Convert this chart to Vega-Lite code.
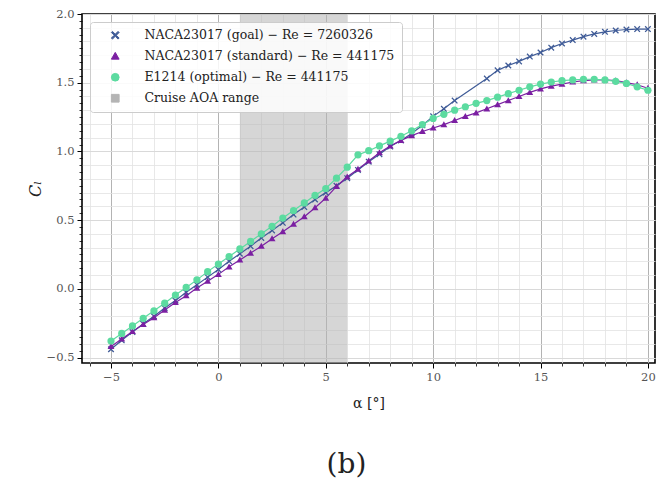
{
  "$schema": "https://vega.github.io/schema/vega-lite/v6.json",
  "width": 573,
  "height": 349,
  "autosize": "none",
  "padding": {"left": 82, "top": 14, "right": 3, "bottom": 120},
  "background": "white",
  "config": {
    "view": {"stroke": "black", "strokeWidth": 1.6},
    "font": "DejaVu Serif",
    "legend": {
      "orient": "top-left",
      "offset": 8,
      "padding": 7,
      "fillColor": "rgba(255,255,255,0.85)",
      "strokeColor": "#cccccc",
      "cornerRadius": 3,
      "labelFont": "DejaVu Serif",
      "labelFontSize": 12.5,
      "labelColor": "#222222",
      "labelLimit": 0,
      "labelOffset": 23,
      "symbolSize": 60,
      "symbolOffset": 12,
      "symbolOpacity": 1,
      "symbolStrokeWidth": 1,
      "rowPadding": 8
    }
  },
  "title": {
    "text": "(b)",
    "orient": "bottom",
    "anchor": "middle",
    "font": "DejaVu Serif",
    "fontSize": 28,
    "fontWeight": "normal",
    "color": "#222222",
    "offset": 40,
    "dx": -22
  },
  "datasets": {
    "polars": [
      {"series": "goal", "alpha": -5, "cl": -0.44},
      {"series": "goal", "alpha": -4.5, "cl": -0.375},
      {"series": "goal", "alpha": -4, "cl": -0.315},
      {"series": "goal", "alpha": -3.5, "cl": -0.255},
      {"series": "goal", "alpha": -3, "cl": -0.2},
      {"series": "goal", "alpha": -2.5, "cl": -0.14},
      {"series": "goal", "alpha": -2, "cl": -0.085},
      {"series": "goal", "alpha": -1.5, "cl": -0.025},
      {"series": "goal", "alpha": -1, "cl": 0.03},
      {"series": "goal", "alpha": -0.5, "cl": 0.085},
      {"series": "goal", "alpha": 0, "cl": 0.14},
      {"series": "goal", "alpha": 0.5, "cl": 0.2},
      {"series": "goal", "alpha": 1, "cl": 0.255},
      {"series": "goal", "alpha": 1.5, "cl": 0.31},
      {"series": "goal", "alpha": 2, "cl": 0.37},
      {"series": "goal", "alpha": 2.5, "cl": 0.425},
      {"series": "goal", "alpha": 3, "cl": 0.48},
      {"series": "goal", "alpha": 3.5, "cl": 0.54},
      {"series": "goal", "alpha": 4, "cl": 0.595},
      {"series": "goal", "alpha": 4.5, "cl": 0.65},
      {"series": "goal", "alpha": 5, "cl": 0.7},
      {"series": "goal", "alpha": 5.5, "cl": 0.75},
      {"series": "goal", "alpha": 6, "cl": 0.805},
      {"series": "goal", "alpha": 6.5, "cl": 0.865},
      {"series": "goal", "alpha": 7, "cl": 0.925},
      {"series": "goal", "alpha": 7.5, "cl": 0.98},
      {"series": "goal", "alpha": 8, "cl": 1.035},
      {"series": "goal", "alpha": 8.5, "cl": 1.08},
      {"series": "goal", "alpha": 9, "cl": 1.13},
      {"series": "goal", "alpha": 9.5, "cl": 1.19},
      {"series": "goal", "alpha": 10, "cl": 1.255},
      {"series": "goal", "alpha": 10.5, "cl": 1.31},
      {"series": "goal", "alpha": 11, "cl": 1.37},
      {"series": "goal", "alpha": 12.5, "cl": 1.53},
      {"series": "goal", "alpha": 13, "cl": 1.59},
      {"series": "goal", "alpha": 13.5, "cl": 1.625},
      {"series": "goal", "alpha": 14, "cl": 1.655},
      {"series": "goal", "alpha": 14.5, "cl": 1.69},
      {"series": "goal", "alpha": 15, "cl": 1.72},
      {"series": "goal", "alpha": 15.5, "cl": 1.755},
      {"series": "goal", "alpha": 16, "cl": 1.785},
      {"series": "goal", "alpha": 16.5, "cl": 1.81},
      {"series": "goal", "alpha": 17, "cl": 1.835},
      {"series": "goal", "alpha": 17.5, "cl": 1.855},
      {"series": "goal", "alpha": 18, "cl": 1.87},
      {"series": "goal", "alpha": 18.5, "cl": 1.88},
      {"series": "goal", "alpha": 19, "cl": 1.887},
      {"series": "goal", "alpha": 19.5, "cl": 1.89},
      {"series": "goal", "alpha": 20, "cl": 1.89},

      {"series": "standard", "alpha": -5, "cl": -0.42},
      {"series": "standard", "alpha": -4.5, "cl": -0.365},
      {"series": "standard", "alpha": -4, "cl": -0.31},
      {"series": "standard", "alpha": -3.5, "cl": -0.26},
      {"series": "standard", "alpha": -3, "cl": -0.21},
      {"series": "standard", "alpha": -2.5, "cl": -0.155},
      {"series": "standard", "alpha": -2, "cl": -0.1},
      {"series": "standard", "alpha": -1.5, "cl": -0.05},
      {"series": "standard", "alpha": -1, "cl": 0.005},
      {"series": "standard", "alpha": -0.5, "cl": 0.055},
      {"series": "standard", "alpha": 0, "cl": 0.105},
      {"series": "standard", "alpha": 0.5, "cl": 0.16},
      {"series": "standard", "alpha": 1, "cl": 0.21},
      {"series": "standard", "alpha": 1.5, "cl": 0.26},
      {"series": "standard", "alpha": 2, "cl": 0.31},
      {"series": "standard", "alpha": 2.5, "cl": 0.365},
      {"series": "standard", "alpha": 3, "cl": 0.415},
      {"series": "standard", "alpha": 3.5, "cl": 0.47},
      {"series": "standard", "alpha": 4, "cl": 0.525},
      {"series": "standard", "alpha": 4.5, "cl": 0.59},
      {"series": "standard", "alpha": 5, "cl": 0.66},
      {"series": "standard", "alpha": 5.5, "cl": 0.745},
      {"series": "standard", "alpha": 6, "cl": 0.815},
      {"series": "standard", "alpha": 6.5, "cl": 0.87},
      {"series": "standard", "alpha": 7, "cl": 0.93},
      {"series": "standard", "alpha": 7.5, "cl": 0.99},
      {"series": "standard", "alpha": 8, "cl": 1.04},
      {"series": "standard", "alpha": 8.5, "cl": 1.08},
      {"series": "standard", "alpha": 9, "cl": 1.115},
      {"series": "standard", "alpha": 9.5, "cl": 1.145},
      {"series": "standard", "alpha": 10, "cl": 1.17},
      {"series": "standard", "alpha": 10.5, "cl": 1.195},
      {"series": "standard", "alpha": 11, "cl": 1.225},
      {"series": "standard", "alpha": 11.5, "cl": 1.255},
      {"series": "standard", "alpha": 12, "cl": 1.28},
      {"series": "standard", "alpha": 12.5, "cl": 1.31},
      {"series": "standard", "alpha": 13, "cl": 1.34},
      {"series": "standard", "alpha": 13.5, "cl": 1.37},
      {"series": "standard", "alpha": 14, "cl": 1.4},
      {"series": "standard", "alpha": 14.5, "cl": 1.43},
      {"series": "standard", "alpha": 15, "cl": 1.455},
      {"series": "standard", "alpha": 15.5, "cl": 1.475},
      {"series": "standard", "alpha": 16, "cl": 1.49},
      {"series": "standard", "alpha": 16.5, "cl": 1.505},
      {"series": "standard", "alpha": 17, "cl": 1.515},
      {"series": "standard", "alpha": 17.5, "cl": 1.52},
      {"series": "standard", "alpha": 18, "cl": 1.52},
      {"series": "standard", "alpha": 18.5, "cl": 1.515},
      {"series": "standard", "alpha": 19, "cl": 1.5},
      {"series": "standard", "alpha": 19.5, "cl": 1.485},
      {"series": "standard", "alpha": 20, "cl": 1.46},

      {"series": "optimal", "alpha": -5, "cl": -0.38},
      {"series": "optimal", "alpha": -4.5, "cl": -0.325},
      {"series": "optimal", "alpha": -4, "cl": -0.27},
      {"series": "optimal", "alpha": -3.5, "cl": -0.215},
      {"series": "optimal", "alpha": -3, "cl": -0.16},
      {"series": "optimal", "alpha": -2.5, "cl": -0.105},
      {"series": "optimal", "alpha": -2, "cl": -0.045},
      {"series": "optimal", "alpha": -1.5, "cl": 0.01},
      {"series": "optimal", "alpha": -1, "cl": 0.065},
      {"series": "optimal", "alpha": -0.5, "cl": 0.125},
      {"series": "optimal", "alpha": 0, "cl": 0.18},
      {"series": "optimal", "alpha": 0.5, "cl": 0.235},
      {"series": "optimal", "alpha": 1, "cl": 0.29},
      {"series": "optimal", "alpha": 1.5, "cl": 0.345},
      {"series": "optimal", "alpha": 2, "cl": 0.4},
      {"series": "optimal", "alpha": 2.5, "cl": 0.455},
      {"series": "optimal", "alpha": 3, "cl": 0.515},
      {"series": "optimal", "alpha": 3.5, "cl": 0.57},
      {"series": "optimal", "alpha": 4, "cl": 0.625},
      {"series": "optimal", "alpha": 4.5, "cl": 0.68},
      {"series": "optimal", "alpha": 5, "cl": 0.73},
      {"series": "optimal", "alpha": 5.5, "cl": 0.805},
      {"series": "optimal", "alpha": 6, "cl": 0.885},
      {"series": "optimal", "alpha": 6.5, "cl": 0.975},
      {"series": "optimal", "alpha": 7, "cl": 1.005},
      {"series": "optimal", "alpha": 7.5, "cl": 1.04},
      {"series": "optimal", "alpha": 8, "cl": 1.075},
      {"series": "optimal", "alpha": 8.5, "cl": 1.11},
      {"series": "optimal", "alpha": 9, "cl": 1.15},
      {"series": "optimal", "alpha": 9.5, "cl": 1.195},
      {"series": "optimal", "alpha": 10, "cl": 1.24},
      {"series": "optimal", "alpha": 10.5, "cl": 1.27},
      {"series": "optimal", "alpha": 11, "cl": 1.3},
      {"series": "optimal", "alpha": 11.5, "cl": 1.325},
      {"series": "optimal", "alpha": 12, "cl": 1.35},
      {"series": "optimal", "alpha": 12.5, "cl": 1.37},
      {"series": "optimal", "alpha": 13, "cl": 1.395},
      {"series": "optimal", "alpha": 13.5, "cl": 1.42},
      {"series": "optimal", "alpha": 14, "cl": 1.445},
      {"series": "optimal", "alpha": 14.5, "cl": 1.47},
      {"series": "optimal", "alpha": 15, "cl": 1.49},
      {"series": "optimal", "alpha": 15.5, "cl": 1.505},
      {"series": "optimal", "alpha": 16, "cl": 1.515},
      {"series": "optimal", "alpha": 16.5, "cl": 1.52},
      {"series": "optimal", "alpha": 17, "cl": 1.525},
      {"series": "optimal", "alpha": 17.5, "cl": 1.525},
      {"series": "optimal", "alpha": 18, "cl": 1.52},
      {"series": "optimal", "alpha": 18.5, "cl": 1.51},
      {"series": "optimal", "alpha": 19, "cl": 1.495},
      {"series": "optimal", "alpha": 19.5, "cl": 1.47},
      {"series": "optimal", "alpha": 20, "cl": 1.445}
    ],
    "cruise": [
      {"series": "cruise", "start": 1, "end": 6}
    ]
  },
  "resolve": {"axis": {"x": "independent", "y": "independent"}},
  "layer": [
    {
      "data": {"name": "cruise"},
      "mark": {"type": "rect", "opacity": 0.55},
      "encoding": {
        "x": {
          "field": "start",
          "type": "quantitative",
          "scale": {"domain": [-6.35, 20.33], "nice": false, "zero": false},
          "axis": {
            "orient": "bottom",
            "values": [-6, -5, -4, -3, -2, -1, 0, 1, 2, 3, 4, 5, 6, 7, 8, 9, 10, 11, 12, 13, 14, 15, 16, 17, 18, 19, 20],
            "labels": false,
            "title": null,
            "domain": false,
            "grid": true,
            "gridColor": "#e2e2e2",
            "gridWidth": 0.8,
            "ticks": true,
            "tickSize": 3,
            "tickColor": "#000000",
            "tickWidth": 0.8
          }
        },
        "x2": {"field": "end"},
        "color": {
          "field": "series",
          "type": "nominal",
          "scale": {
            "domain": ["goal", "standard", "optimal", "cruise"],
            "range": ["#3f5b97", "#7b1fa2", "#5cdba0", "#b4b4b4"]
          },
          "legend": {
            "title": null,
            "labelExpr": "datum.value === 'goal' ? 'NACA23017 (goal) − Re = 7260326' : datum.value === 'standard' ? 'NACA23017 (standard) − Re = 441175' : datum.value === 'optimal' ? 'E1214 (optimal) − Re = 441175' : 'Cruise AOA range'"
          }
        }
      }
    },
    {
      "data": {"name": "polars"},
      "mark": {"type": "line", "strokeWidth": 1.2},
      "encoding": {
        "x": {
          "field": "alpha",
          "type": "quantitative",
          "scale": {"domain": [-6.35, 20.33], "nice": false, "zero": false},
          "axis": {
            "orient": "bottom",
            "values": [-5, 0, 5, 10, 15, 20],
            "title": "α [°]",
            "titleFont": "DejaVu Serif",
            "titleFontSize": 14,
            "titleFontWeight": "normal",
            "titleColor": "#222222",
            "titlePadding": 14,
            "labelFont": "DejaVu Serif",
            "labelFontSize": 11.5,
            "labelColor": "#555555",
            "labelPadding": 3,
            "domain": false,
            "grid": true,
            "gridColor": "#b3b3b3",
            "gridWidth": 1,
            "ticks": true,
            "tickSize": 5,
            "tickColor": "#000000",
            "tickWidth": 1
          }
        },
        "y": {
          "field": "cl",
          "type": "quantitative",
          "scale": {"domain": [-0.54, 2.0], "nice": false, "zero": false},
          "axis": {
            "orient": "left",
            "values": [-0.5, 0, 0.5, 1, 1.5, 2],
            "format": ".1f",
            "title": "Cₗ",
            "titleFont": "DejaVu Serif",
            "titleFontSize": 16,
            "titleFontStyle": "italic",
            "titleFontWeight": "normal",
            "titleColor": "#222222",
            "titlePadding": 3,
            "labelFont": "DejaVu Serif",
            "labelFontSize": 11.5,
            "labelColor": "#555555",
            "labelPadding": 3,
            "domain": false,
            "grid": true,
            "gridColor": "#b3b3b3",
            "gridWidth": 1,
            "ticks": true,
            "tickSize": 5,
            "tickColor": "#000000",
            "tickWidth": 1
          }
        },
        "color": {"field": "series", "type": "nominal"}
      }
    },
    {
      "data": {"name": "polars"},
      "mark": {"type": "point", "filled": true, "opacity": 1},
      "encoding": {
        "x": {"field": "alpha", "type": "quantitative", "axis": null},
        "y": {
          "field": "cl",
          "type": "quantitative",
          "axis": {
            "orient": "left",
            "values": [-0.5, -0.45, -0.4, -0.35, -0.3, -0.25, -0.2, -0.15, -0.1, -0.05, 0, 0.05, 0.1, 0.15, 0.2, 0.25, 0.3, 0.35, 0.4, 0.45, 0.5, 0.55, 0.6, 0.65, 0.7, 0.75, 0.8, 0.85, 0.9, 0.95, 1, 1.05, 1.1, 1.15, 1.2, 1.25, 1.3, 1.35, 1.4, 1.45, 1.5, 1.55, 1.6, 1.65, 1.7, 1.75, 1.8, 1.85, 1.9, 1.95, 2],
            "labels": false,
            "title": null,
            "domain": false,
            "grid": true,
            "gridColor": "#e2e2e2",
            "gridWidth": 0.8,
            "gridOpacity": {"condition": {"test": "round(datum.value * 20) % 2 === 0", "value": 1}, "value": 0},
            "ticks": true,
            "tickSize": 3,
            "tickColor": "#000000",
            "tickWidth": 0.8
          }
        },
        "color": {"field": "series", "type": "nominal"},
        "shape": {
          "field": "series",
          "type": "nominal",
          "scale": {
            "domain": ["goal", "standard", "optimal", "cruise"],
            "range": [
              "M-1,-0.72L-0.72,-1L0,-0.28L0.72,-1L1,-0.72L0.28,0L1,0.72L0.72,1L0,0.28L-0.72,1L-1,0.72L-0.28,0Z",
              "M0,-1L1,0.75L-1,0.75Z",
              "circle",
              "square"
            ]
          },
          "legend": {
            "title": null,
            "labelExpr": "datum.value === 'goal' ? 'NACA23017 (goal) − Re = 7260326' : datum.value === 'standard' ? 'NACA23017 (standard) − Re = 441175' : datum.value === 'optimal' ? 'E1214 (optimal) − Re = 441175' : 'Cruise AOA range'"
          }
        },
        "size": {
          "field": "series",
          "type": "nominal",
          "scale": {"domain": ["goal", "standard", "optimal"], "range": [42, 52, 22]},
          "legend": null
        }
      }
    }
  ]
}
